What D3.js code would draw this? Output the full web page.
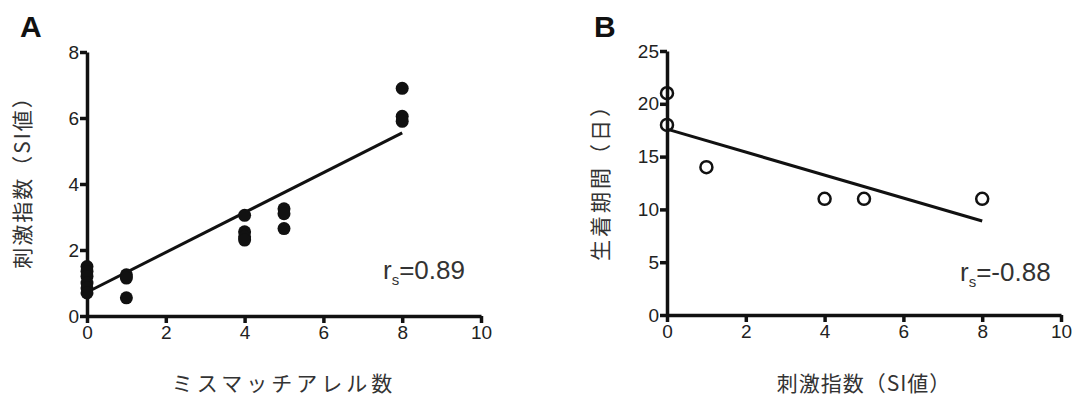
<!DOCTYPE html>
<html>
<head>
<meta charset="utf-8">
<script src="https://cdn.jsdelivr.net/npm/d3@7"></script>
<style>
  body { margin: 0; background: #fff; }
  svg { display: block; }
  .tick text { font-family: "Liberation Sans", Arial, sans-serif; font-size: 19px; fill: #222; }
  .domain, .tick line { stroke: #111; stroke-width: 3.5px; }
  .jp { font-family: "Noto Sans CJK JP", sans-serif; fill: #333; }
</style>
</head>
<body>
<script>
// panel A: mismatch alleles vs SI value
const mismatchA = [0, 0, 0, 0, 0, 0, 1, 1, 1, 4, 4, 4, 4, 5, 5, 5, 8, 8, 8];
const siA = [1.5, 1.35, 1.2, 1.0, 0.85, 0.7, 1.25, 1.15, 0.55, 3.05, 2.55, 2.4, 2.3, 3.25, 3.1, 2.65, 6.9, 6.05, 5.9];
const fitA = [[0, 0.72], [8, 5.55]];

// panel B: SI value vs engraftment days
const siB = [0, 0, 1, 4, 5, 8];
const daysB = [21, 18, 14, 11, 11, 11];
const fitB = [[0, 17.6], [8, 8.9]];

const xTicks = [0, 2, 4, 6, 8, 10];
const yTicksA = [0, 2, 4, 6, 8];
const yTicksB = [0, 5, 10, 15, 20, 25];

const W = 1079, H = 403;
const svg = d3.select('body').append('svg').attr('width', W).attr('height', H);

function panel(opt) {
  var g = svg.append('g');
  var x = d3.scaleLinear().domain([0, 10]).range([opt.left, opt.left + 394]);
  var y = d3.scaleLinear().domain(opt.yDomain).range([opt.bottom, opt.bottom - 264]);

  g.append('g')
    .attr('transform', 'translate(0,' + opt.bottom + ')')
    .call(d3.axisBottom(x).tickValues(xTicks).tickSize(7).tickSizeOuter(0).tickPadding(3));
  g.append('g')
    .attr('transform', 'translate(' + opt.left + ',0)')
    .call(d3.axisLeft(y).tickValues(opt.yTicks).tickSize(7).tickSizeOuter(0).tickPadding(1));

  // fit line
  g.append('path')
    .attr('d', d3.line().x(d => x(d[0])).y(d => y(d[1]))(opt.fit))
    .style('stroke', '#111').style('stroke-width', '3px').attr('fill', 'none');

  // points
  g.selectAll('circle.pt')
    .data(opt.xs.map((v, i) => [v, opt.ys[i]]))
    .enter().append('circle')
    .attr('class', 'pt')
    .attr('cx', d => x(d[0]))
    .attr('cy', d => y(d[1]))
    .attr('r', opt.open ? 6 : 6.5)
    .attr('fill', opt.open ? 'none' : '#111')
    .style('stroke', '#111')
    .style('stroke-width', opt.open ? '2.5px' : '0px');

  // panel letter
  g.append('text')
    .attr('x', opt.letterX).attr('y', 37)
    .style('font-family', '"Liberation Sans", Arial, sans-serif')
    .style('font-weight', 'bold').style('font-size', '30px')
    .attr('fill', '#111')
    .text(opt.letter);

  // r_s annotation
  var r = g.append('text')
    .attr('x', opt.rX).attr('y', opt.rY)
    .style('font-family', '"Liberation Sans", Arial, sans-serif')
    .style('font-size', '26px').attr('fill', '#333');
  r.append('tspan').text('r');
  r.append('tspan').attr('dy', 6).style('font-size', '15px').text('s');
  r.append('tspan').attr('dy', -6).text(opt.rText);

  // axis titles
  g.append('text').attr('class', 'jp')
    .attr('x', opt.left + 197).attr('y', 391)
    .attr('text-anchor', 'middle')
    .style('font-size', '21px').style('letter-spacing', opt.xSpacing)
    .text(opt.xLabel);
  g.append('text').attr('class', 'jp')
    .attr('transform', 'translate(' + opt.yLabelX + ',177) rotate(-90)')
    .attr('text-anchor', 'middle')
    .style('font-size', '21px').style('letter-spacing', opt.ySpacing)
    .text(opt.yLabel);
}

panel({
  left: 87, bottom: 316, yDomain: [0, 8], yTicks: yTicksA,
  xs: mismatchA, ys: siA, fit: fitA, open: false,
  letter: 'A', letterX: 20, rX: 383, rY: 279, rText: '=0.89',
  xLabel: 'ミスマッチアレル数', xSpacing: '4px',
  yLabel: '刺激指数（SI値）', yLabelX: 30, ySpacing: '2px'
});

panel({
  left: 667, bottom: 315, yDomain: [0, 25], yTicks: yTicksB,
  xs: siB, ys: daysB, fit: fitB, open: true,
  letter: 'B', letterX: 594, rX: 960, rY: 281, rText: '=-0.88',
  xLabel: '刺激指数（SI値）', xSpacing: '1px',
  yLabel: '生着期間（日）', yLabelX: 608, ySpacing: '3px'
});
</script>
</body>
</html>
